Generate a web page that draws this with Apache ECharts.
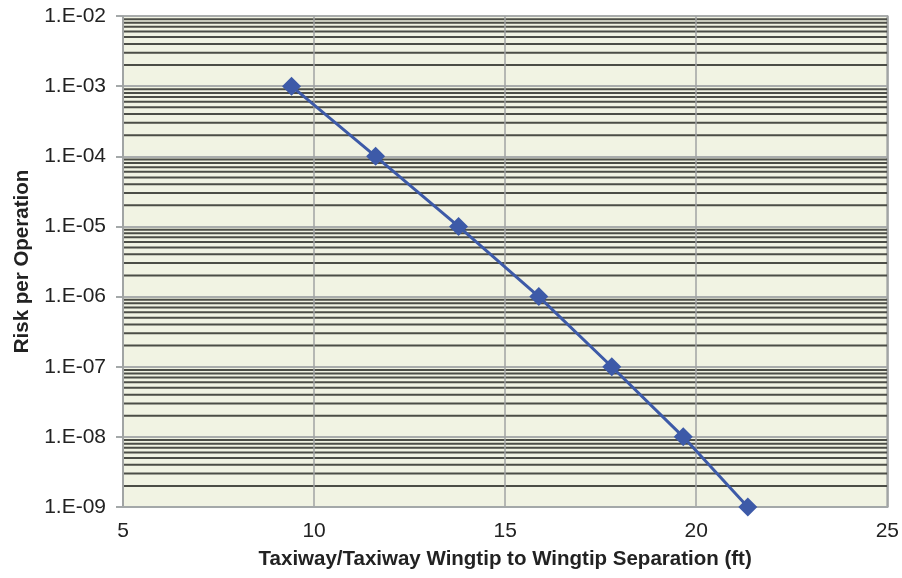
<!DOCTYPE html>
<html>
<head>
<meta charset="utf-8">
<script src="https://cdn.jsdelivr.net/npm/echarts@6/dist/echarts.min.js"></script>
<style>html,body{margin:0;padding:0;background:#fff}#c{width:902px;height:578px}</style>
</head>
<body>
<div id="c"></div>
<script>
const separationFt = [9.41, 11.61, 13.78, 15.88, 17.79, 19.66, 21.35];
const riskPerOp = [1e-3, 1e-4, 1e-5, 1e-6, 1e-7, 1e-8, 1e-9];
const xTicks = [5, 10, 15, 20, 25];
const yDecades = [1e-9, 1e-8, 1e-7, 1e-6, 1e-5, 1e-4, 1e-3, 1e-2];
const yTickLabels = ['1.E-09', '1.E-08', '1.E-07', '1.E-06', '1.E-05', '1.E-04', '1.E-03', '1.E-02'];
const minorMultipliers = [2, 3, 4, 5, 6, 7, 8, 9];

const minorValues = [];
for (let i = 0; i < yDecades.length - 1; i++) {
  for (const m of minorMultipliers) minorValues.push(yDecades[i] * m);
}
function labelFor(v) {
  const e = Math.round(Math.log10(v));
  const idx = yDecades.findIndex(d => Math.round(Math.log10(d)) === e);
  return idx >= 0 ? yTickLabels[idx] : '';
}

const xMin = xTicks[0], xMax = xTicks[xTicks.length - 1];
const minorSeries = minorValues.map(v => ({
  type: 'line', z: 1, silent: true, symbol: 'none', showSymbol: false,
  data: [[xMin, v], [xMax, v]],
  lineStyle: { color: '#4b4d46', width: 2 },
  emphasis: { disabled: true }, tooltip: { show: false }
}));

const chart = echarts.init(document.getElementById('c'), null, { renderer: 'canvas' });
chart.setOption({
  animation: false,
  textStyle: { fontFamily: 'Liberation Sans, Arial, sans-serif' },
  grid: {
    left: 123, right: 13, top: 16, bottom: 71,
    show: true, backgroundColor: '#f1f3e3', borderColor: '#a4a8a9', borderWidth: 2
  },
  xAxis: {
    type: 'value', min: xMin, max: xMax, interval: 5, z: 3,
    name: 'Taxiway/Taxiway Wingtip to Wingtip Separation (ft)',
    nameLocation: 'middle', nameGap: 42,
    nameTextStyle: { fontSize: 20.5, fontWeight: 'bold', color: '#222' },
    axisLine: { show: true, lineStyle: { color: '#a4a8a9', width: 2 } },
    axisTick: { show: false },
    axisLabel: { fontSize: 21, color: '#222', margin: 14 },
    splitLine: { show: true, lineStyle: { color: '#a0a3a3', width: 1.5 } }
  },
  yAxis: {
    type: 'log', logBase: 10, min: yDecades[0], max: yDecades[yDecades.length - 1], z: 2,
    name: 'Risk per Operation',
    nameLocation: 'middle', nameGap: 89,
    nameTextStyle: { fontSize: 20.5, fontWeight: 'bold', color: '#222' },
    axisLine: { show: true, lineStyle: { color: '#a4a8a9', width: 2 } },
    axisTick: { show: true, length: 7, lineStyle: { color: '#a4a8a9', width: 2 } },
    axisLabel: { fontSize: 21, color: '#222', margin: 17, formatter: labelFor },
    splitLine: { show: true, lineStyle: { color: '#a9acac', width: 2 } }
  },
  series: minorSeries.concat([
    {
      type: 'line', z: 5,
      data: separationFt.map((x, i) => [x, riskPerOp[i]]),
      symbol: 'diamond', symbolSize: 19,
      lineStyle: { color: '#3d5aa8', width: 3 },
      itemStyle: { color: '#3d5aa8' }
    }
  ])
});
</script>
</body>
</html>
